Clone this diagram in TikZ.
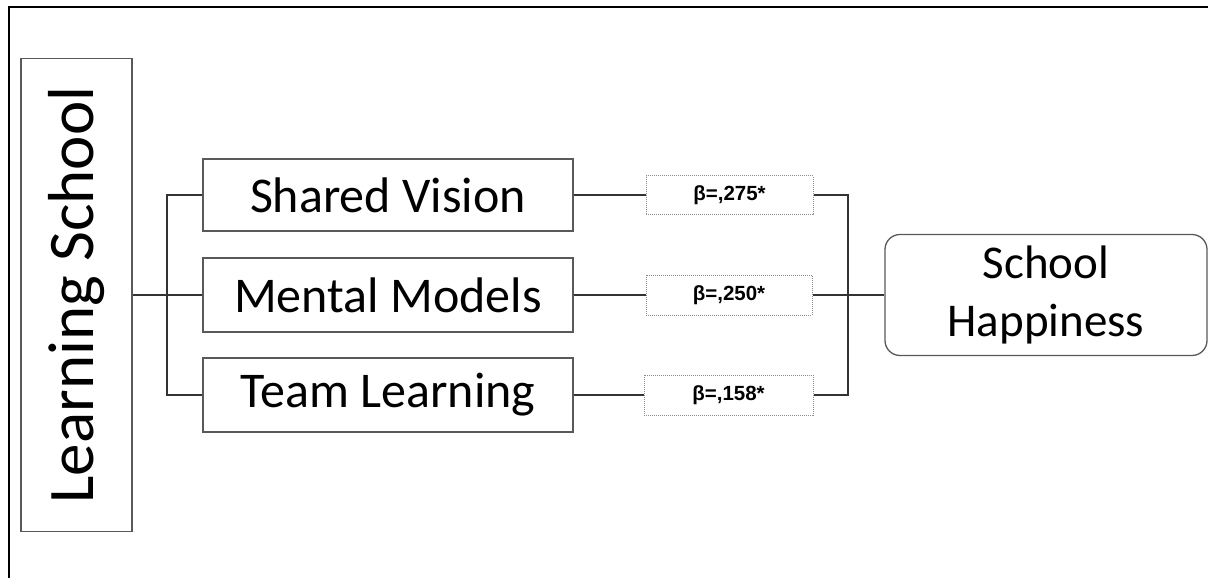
\documentclass[tikz,border=0pt]{standalone}
\usepackage{fontspec}
\setmainfont{Carlito}
\newfontfamily\betafont{Liberation Sans}
\begin{document}
\begin{tikzpicture}[x=1pt,y=-1pt,
  box/.style={draw=black!65,line width=1.3pt,inner sep=0pt,align=center},
  betabox/.style={draw=black!45,densely dotted,line width=1pt,inner sep=0pt,font=\betafont\bfseries\fontsize{20.5}{24}\selectfont},
  conn/.style={draw=black!80,line width=1.5pt}]
\useasboundingbox (0,0) rectangle (1208,578);
\draw[line width=2pt] (9,578) -- (9,7) -- (1208,7);
\node[box,minimum width=111pt,minimum height=473pt] (LS) at (76.5,295)
  {\rotatebox{90}{\fontsize{65}{70}\selectfont Learning School}};
\node[box,minimum width=370pt,minimum height=72pt,font=\fontsize{50}{55}\selectfont] (SV) at (388,195) {Shared Vision};
\node[box,minimum width=370pt,minimum height=74pt,font=\fontsize{50}{55}\selectfont] (MM) at (388,295) {Mental Models};
\node[box,minimum width=370pt,minimum height=74pt,font=\fontsize{50}{55}\selectfont] (TL) at (388,395) {Team Learning};
\node[betabox,minimum width=167pt,minimum height=39pt] (B1) at (729.5,195) {β=,275*};
\node[betabox,minimum width=166pt,minimum height=40pt] (B2) at (729,295) {β=,250*};
\node[betabox,minimum width=169pt,minimum height=40pt] (B3) at (728.5,395) {β=,158*};
\node[box,rounded corners=15pt,minimum width=322pt,minimum height=121pt,font=\fontsize{47}{58}\selectfont] (SH) at (1046,295) {School\\Happiness};
\coordinate (jl) at (167,295);
\coordinate (jr) at (848,295);
\draw[conn] (LS.east) -- (jl);
\draw[conn] (SV.west) -| (jl) |- (TL.west);
\draw[conn] (MM.west) -- (jl);
\draw[conn] (SV.east) -- (B1.west);
\draw[conn] (MM.east) -- (B2.west);
\draw[conn] (TL.east) -- (B3.west);
\draw[conn] (B1.east) -| (jr) |- (B3.east);
\draw[conn] (B2.east) -- (jr) -- (SH.west);
\end{tikzpicture}
\end{document}
